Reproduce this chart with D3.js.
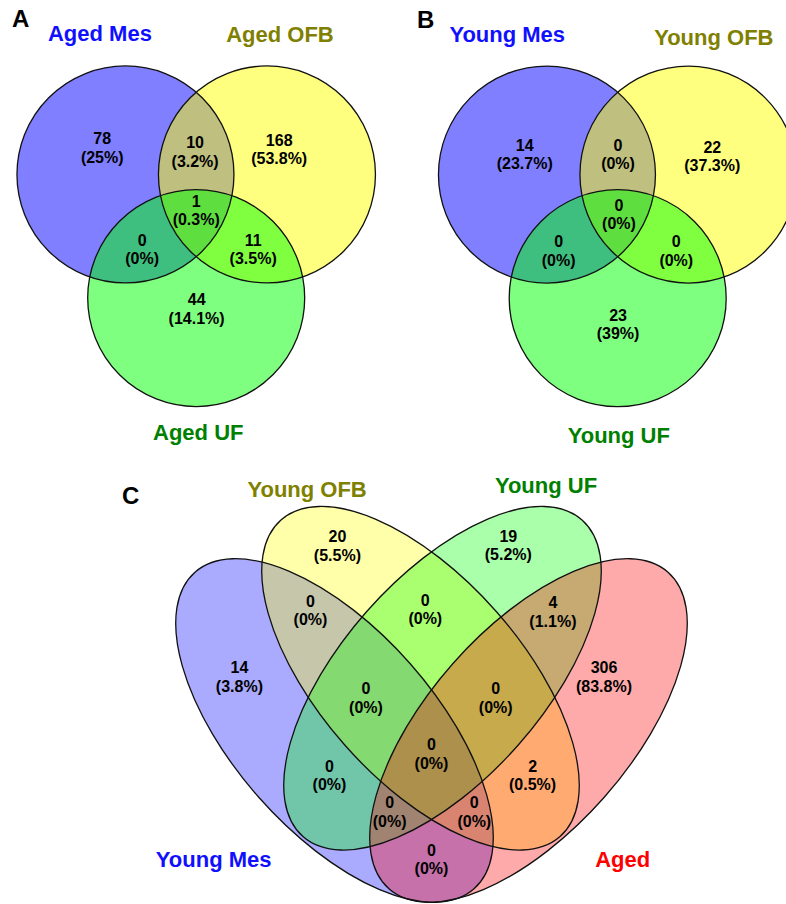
<!DOCTYPE html>
<html>
<head>
<meta charset="utf-8">
<script src="https://cdn.jsdelivr.net/npm/d3@7"></script>
<style>
  html, body { margin: 0; padding: 0; background: #fff; }
  svg { display: block; font-family: "Liberation Sans", Arial, sans-serif; }
</style>
</head>
<body>
<svg id="chart" width="786" height="904"></svg>
<script>
// ---------------- data ----------------
// Three-set panels: regions keyed by membership bits (set1 set2 set3)
const regionKeys3 = ["100", "110", "010", "101", "111", "011", "001"];

const setsA = ["Aged Mes", "Aged OFB", "Aged UF"];
const countsA = [78, 10, 168, 0, 1, 11, 44];

const setsB = ["Young Mes", "Young OFB", "Young UF"];
const countsB = [14, 0, 22, 0, 0, 0, 23];

// Four-set panel: bits are (Young Mes, Young OFB, Young UF, Aged)
const setsC = ["Young Mes", "Young OFB", "Young UF", "Aged"];
const regionKeys4 = ["0100", "0010", "1100", "0110", "0011", "1000", "0001",
                     "1110", "0111", "1111", "1010", "0101", "1011", "1101", "1001"];
const countsC = [20, 19, 0, 0, 4, 14, 306, 0, 0, 0, 0, 2, 0, 0, 0];

const panelLetters = ["A", "B", "C"];

// ---------------- styling ----------------
const fill3 = ["#0000ff", "#ffff00", "#00ff00"];
const fill4 = ["#0000ff", "#ffff00", "#00ff00", "#ff0000"];
const nameColor3 = ["#1010ff", "#808000", "#008000"];
const nameColor4 = ["#1010ff", "#808000", "#008000", "#ff0000"];

const svg = d3.select("#chart");

const pctFmt = (v, total) => "(" + (+(v / total * 100).toFixed(1)) + "%)";

function regionLabels(g, x, y, keys, counts, anchors) {
  const total = d3.sum(counts);
  const lab = g.append("g").attr("class", "counts")
    .selectAll("text").data(keys.map((k, i) => ({ k, v: counts[i] })))
    .join("text")
    .attr("text-anchor", "middle")
    .attr("font-size", 16)
    .attr("font-weight", "bold")
    .attr("fill", "#000")
    .attr("x", d => x(anchors[d.k][0]))
    .attr("y", d => y(anchors[d.k][1]));
  lab.append("tspan").text(d => d.v);
  lab.append("tspan")
    .attr("x", d => x(anchors[d.k][0]))
    .attr("dy", 18.7)
    .text(d => pctFmt(d.v, total));
}

function nameLabels(g, x, y, names, colors, pos) {
  g.append("g").attr("class", "names")
    .selectAll("text").data(names)
    .join("text")
    .attr("text-anchor", "middle")
    .attr("font-size", 22)
    .attr("font-weight", "bold")
    .attr("fill", (d, i) => colors[i])
    .attr("x", (d, i) => x(pos[i][0]))
    .attr("y", (d, i) => y(pos[i][1]))
    .text(d => d);
}

function letter(g, x, y, t, p) {
  g.append("text")
    .attr("x", x(p[0])).attr("y", y(p[1]))
    .attr("font-size", 24).attr("font-weight", "bold").attr("fill", "#000")
    .text(t);
}

// ---------- three-circle panels (unit = circle radius) ----------
const circleCenters = [[-0.652, -0.380], [0.652, -0.380], [0, 0.759]];

function drawThree(origin, unit, names, counts, layout, letterText) {
  const x = d3.scaleLinear().domain([0, 1]).range([origin[0], origin[0] + unit]);
  const y = d3.scaleLinear().domain([0, 1]).range([origin[1], origin[1] + unit]);
  const g = svg.append("g");
  const circles = circleCenters.map((c, i) => ({ c, i }));
  g.append("g").selectAll("circle").data(circles).join("circle")
    .attr("cx", d => x(d.c[0])).attr("cy", d => y(d.c[1]))
    .attr("r", x(1) - x(0))
    .attr("fill", d => fill3[d.i]).attr("fill-opacity", 0.5)
    .attr("stroke", "none");
  g.append("g").selectAll("circle").data(circles).join("circle")
    .attr("cx", d => x(d.c[0])).attr("cy", d => y(d.c[1]))
    .attr("r", x(1) - x(0))
    .attr("fill", "none").attr("stroke", "#111").attr("stroke-width", 1.3);
  regionLabels(g, x, y, regionKeys3, counts, layout.regions);
  nameLabels(g, x, y, names, nameColor3, layout.names);
  letter(g, x, y, letterText, layout.letter);
}

drawThree([196.2, 215.7], 108.5, setsA, countsA, {
  regions: {
    "100": [-0.866, -0.661], "110": [-0.010, -0.621], "010": [0.765, -0.645],
    "111": [0, -0.083], "101": [-0.498, 0.276], "011": [0.525, 0.276], "001": [0.004, 0.823]
  },
  names: [[-0.887, -1.613], [0.772, -1.604], [0.019, 2.067]],
  letter: [-1.698, -1.739]
}, panelLetters[0]);

drawThree([617.7, 215.8], 108.5, setsB, countsB, {
  regions: {
    "100": [-0.857, -0.600], "110": [0.003, -0.600], "010": [0.872, -0.582],
    "111": [0.012, -0.047], "101": [-0.544, 0.290], "011": [0.540, 0.290], "001": [0.003, 0.967]
  },
  names: [[-1.018, -1.604], [0.886, -1.574], [0.010, 2.098]],
  letter: [-1.849, -1.731]
}, panelLetters[1]);

// ---------- four-ellipse panel (unit = 100 px) ----------
const ellipseCenters = [[-0.97, 0.265], [-0.11, -0.2575], [0.11, -0.2575], [0.97, 0.265]];
const ellipseTilt = [48.6, 48.6, -48.6, -48.6];
const semiMajor = 2.11, semiMinor = 1.01;

(function drawFour() {
  const origin = [431.5, 704], unit = 100;
  const x = d3.scaleLinear().domain([0, 1]).range([origin[0], origin[0] + unit]);
  const y = d3.scaleLinear().domain([0, 1]).range([origin[1], origin[1] + unit]);
  const g = svg.append("g");
  const ells = ellipseCenters.map((c, i) => ({ c, i }));
  const place = sel => sel
    .attr("cx", d => x(d.c[0])).attr("cy", d => y(d.c[1]))
    .attr("rx", x(semiMajor) - x(0)).attr("ry", x(semiMinor) - x(0))
    .attr("transform", d => `rotate(${ellipseTilt[d.i]} ${x(d.c[0])} ${y(d.c[1])})`);
  g.append("g").selectAll("ellipse").data(ells).join("ellipse")
    .call(place)
    .attr("fill", d => fill4[d.i]).attr("fill-opacity", 1 / 3).attr("stroke", "none");
  g.append("g").selectAll("ellipse").data(ells).join("ellipse")
    .call(place)
    .attr("fill", "none").attr("stroke", "#111").attr("stroke-width", 1.3);

  regionLabels(g, x, y, regionKeys4, countsC, {
    "0100": [-0.941, -1.617], "0010": [0.768, -1.623],
    "1100": [-1.21, -0.973], "0110": [-0.062, -0.983], "0011": [1.214, -0.957],
    "1000": [-1.921, -0.307], "0001": [1.725, -0.307],
    "1110": [-0.655, -0.10], "0111": [0.642, -0.10],
    "1111": [0, 0.46],
    "1010": [-1.02, 0.677], "0101": [1.011, 0.677],
    "1011": [-0.419, 1.043], "1101": [0.428, 1.043],
    "1001": [0, 1.517]
  });
  nameLabels(g, x, y, setsC, nameColor4,
    [[-2.178, 1.627], [-1.244, -2.067], [1.145, -2.107], [1.912, 1.627]]);
  letter(g, x, y, panelLetters[2], [-3.095, -2.0]);
})();
</script>
</body>
</html>
